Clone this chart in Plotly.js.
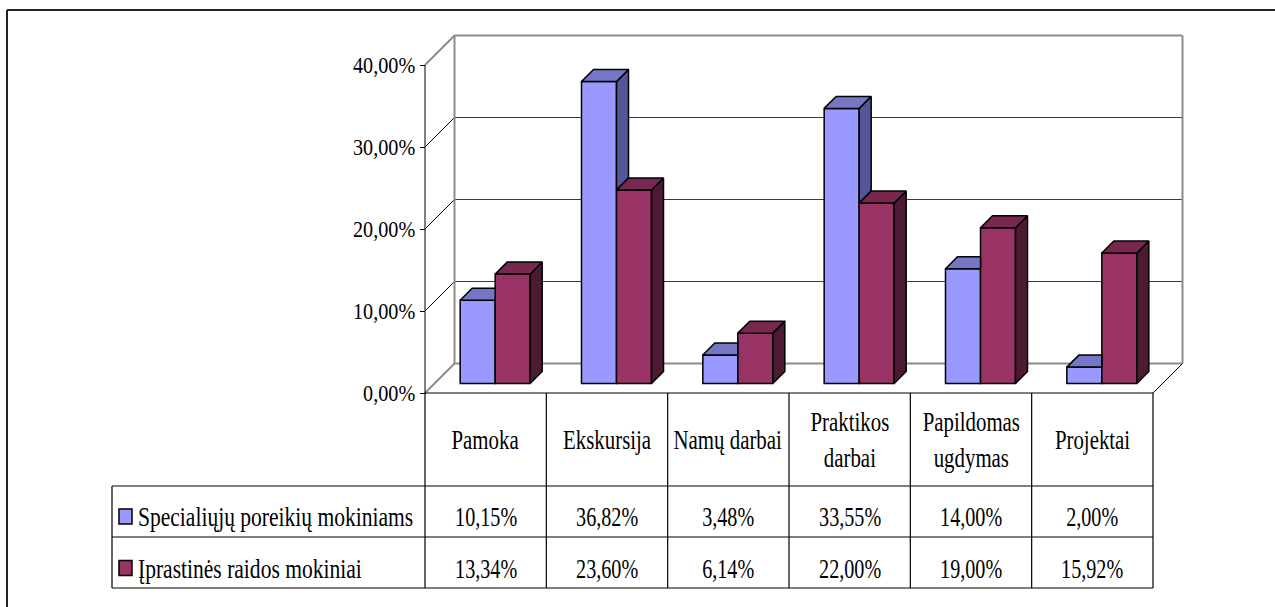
<!DOCTYPE html>
<html>
<head>
<meta charset="utf-8">
<script src="https://cdn.plot.ly/plotly-3.0.1.min.js"></script>
<style>
  html, body { margin: 0; padding: 0; background: #fff; }
  #chart { width: 1275px; height: 607px; }
</style>
</head>
<body>
<div id="chart"></div>
<script>
// ---------------- DATA ----------------
const categories = ['Pamoka', 'Ekskursija', 'Namų darbai', 'Praktikos<br>darbai', 'Papildomas<br>ugdymas', 'Projektai'];
const seriesNames = ['Specialiųjų poreikių mokiniams', 'Įprastinės raidos mokiniai'];
const specialNeeds = [10.15, 36.82, 3.48, 33.55, 14.00, 2.00];
const typicalDev = [13.34, 23.60, 6.14, 22.00, 19.00, 15.92];
const yTickVals = [0, 10, 20, 30, 40];
const yTickText = ['0,00%', '10,00%', '20,00%', '30,00%', '40,00%'];

// ---------------- GEOMETRY (pixels) ----------------
const W = 1275, H = 607;
const X0 = 425, X1 = 1153;            // front plane left/right
const PXU = (X1 - X0) / categories.length; // px per category
const Y0 = 393, PYU = 8.2;            // 0% line, px per 1%
const BO = 9.5;                       // bar plane depth offset px
const BAR_W = 35;                     // bar width px
const DEPTH = 12;                     // bar depth px
const WALL = 29.5;                    // back wall depth px
const FONT = 'Liberation Serif';

const bx = BO / PXU, by = BO / PYU;
const Wu = BAR_W / PXU;
const dx = DEPTH / PXU, dy = DEPTH / PYU;
const wx = WALL / PXU, wy = WALL / PYU;
const xL = -0.5, xR = categories.length - 0.5;
const yMax = yTickVals[yTickVals.length - 1];

const idx = categories.map((_, i) => i);
const px = v => v / W;           // pixel x -> paper
const py = v => 1 - v / H;       // pixel y -> paper

// ---------------- 3D faces ----------------
function poly(list) {
  const xs = [], ys = [];
  list.forEach(p => { p.forEach(q => { xs.push(q[0]); ys.push(q[1]); }); xs.push(p[0][0]); ys.push(p[0][1]); xs.push(null); ys.push(null); });
  return { xs, ys };
}
const blueSide = [], blueTop = [], redSide = [], redTop = [];
idx.forEach(i => {
  const vb = specialNeeds[i], vr = typicalDev[i];
  const x0b = i + bx - Wu, x1b = i + bx, x1r = i + bx + Wu;
  const Tb = by + vb, Tr = by + vr;
  if (vb > vr) {
    blueSide.push([[x1b, Tr], [x1b, Tb], [x1b + dx, Tb + dy], [x1b + dx, Tr + dy]]);
    blueTop.push([[x0b, Tb], [x1b, Tb], [x1b + dx, Tb + dy], [x0b + dx, Tb + dy]]);
  } else {
    blueTop.push([[x0b, Tb], [x1b, Tb], [x1b, Tb + dy], [x0b + dx, Tb + dy]]);
  }
  redSide.push([[x1r, by], [x1r, Tr], [x1r + dx, Tr + dy], [x1r + dx, by + dy]]);
  redTop.push([[x1b, Tr], [x1r, Tr], [x1r + dx, Tr + dy], [x1b + dx, Tr + dy]]);
});
function faceTrace(list, color) {
  const p = poly(list);
  return { type: 'scatter', mode: 'lines', x: p.xs, y: p.ys, fill: 'toself', fillcolor: color,
    line: { color: '#000', width: 1.5 }, hoverinfo: 'skip', showlegend: false, connectgaps: false };
}

const data = [
  { type: 'bar', name: seriesNames[0], x: idx.map(i => i + bx), y: specialNeeds, base: by, width: Wu, offset: -Wu,
    marker: { color: '#9999FF', line: { color: '#000', width: 1.5 } }, hoverinfo: 'skip', showlegend: false },
  { type: 'bar', name: seriesNames[1], x: idx.map(i => i + bx), y: typicalDev, base: by, width: Wu, offset: 0,
    marker: { color: '#993366', line: { color: '#000', width: 1.5 } }, hoverinfo: 'skip', showlegend: false },
  faceTrace(blueSide, '#55559A'),
  faceTrace(blueTop, '#7676C6'),
  faceTrace(redSide, '#4D1A34'),
  faceTrace(redTop, '#78284F')
];

// ---------------- SHAPES ----------------
const shapes = [];
const GRAY = '#8C8C8C';
yTickVals.forEach(v => {
  const edge = (v === 0 || v === yMax);
  shapes.push({ type: 'line', layer: 'below', xref: 'x', yref: 'y', x0: xL + wx, y0: v + wy, x1: xR + wx, y1: v + wy,
    line: { color: edge ? GRAY : '#3A3A3A', width: edge ? 2 : 1.2 } });
  shapes.push({ type: 'line', layer: 'below', xref: 'x', yref: 'y', x0: xL, y0: v, x1: xL + wx, y1: v + wy,
    line: { color: edge ? GRAY : '#000', width: edge ? 2 : 1 } });
});
[xL + wx, xR + wx].forEach(x => {
  shapes.push({ type: 'line', layer: 'below', xref: 'x', yref: 'y', x0: x, y0: wy, x1: x, y1: yMax + wy,
    line: { color: GRAY, width: 2 } });
});
shapes.push({ type: 'line', layer: 'below', xref: 'x', yref: 'y', x0: xR, y0: 0, x1: xR + wx, y1: wy, line: { color: '#000', width: 1 } });
shapes.push({ type: 'line', xref: 'x', yref: 'y', x0: xL, y0: 0, x1: xL, y1: yMax, line: { color: '#000', width: 1 } });

// data table lines
const TOP = Y0, R1 = 486, R2 = 537, R3 = 588, TL = 112;
shapes.push({ type: 'line', xref: 'paper', yref: 'paper', x0: px(X0), y0: py(TOP), x1: px(X1), y1: py(TOP), line: { color: '#000', width: 1.2 } });
[R1, R2, R3].forEach(r => shapes.push({ type: 'line', xref: 'paper', yref: 'paper', x0: px(TL), y0: py(r), x1: px(X1), y1: py(r), line: { color: '#000', width: 1.2 } }));
for (let k = 0; k <= categories.length; k++) {
  const x = X0 + k * PXU;
  shapes.push({ type: 'line', xref: 'paper', yref: 'paper', x0: px(x), y0: py(TOP), x1: px(x), y1: py(R3), line: { color: '#000', width: 1.2 } });
}
shapes.push({ type: 'line', xref: 'paper', yref: 'paper', x0: px(TL), y0: py(R1), x1: px(TL), y1: py(R3), line: { color: '#000', width: 1.2 } });
const keyColors = ['#9999FF', '#993366'];
const rowMid = [(R1 + R2) / 2 + 5, (R2 + R3) / 2 + 5.5];
rowMid.forEach((m, s) => shapes.push({ type: 'rect', xref: 'paper', yref: 'paper', x0: px(119), x1: px(132), y0: py(m - 7.5), y1: py(m + 7.5),
  fillcolor: keyColors[s], line: { color: '#000', width: 1.5 } }));
shapes.push({ type: 'line', xref: 'paper', yref: 'paper', x0: px(7), y0: py(10), x1: 1, y1: py(10), line: { color: '#222', width: 2 } });
shapes.push({ type: 'line', xref: 'paper', yref: 'paper', x0: px(7), y0: py(10), x1: px(7), y1: 0, line: { color: '#222', width: 2 } });

// ---------------- ANNOTATIONS (table text) ----------------
const fmt = v => v.toFixed(2).replace('.', ',') + '%';
const annotations = [], squeezeBy = [];
const tf = () => ({ family: FONT, size: 28, color: '#000' });
categories.forEach((c, i) => {
  const cx = X0 + (i + 0.5) * PXU;
  annotations.push({ xref: 'paper', yref: 'paper', x: px(cx), y: py((TOP + R1) / 2), text: c, showarrow: false,
    xanchor: 'center', yanchor: 'middle', align: 'center', font: tf() });
  squeezeBy.push(0.745);
  [specialNeeds, typicalDev].forEach((arr, s) => {
    annotations.push({ xref: 'paper', yref: 'paper', x: px(cx), y: py(rowMid[s]), text: fmt(arr[i]), showarrow: false,
      xanchor: 'center', yanchor: 'middle', align: 'center', font: tf() });
    squeezeBy.push(0.72);
  });
});
seriesNames.forEach((n, s) => {
  annotations.push({ xref: 'paper', yref: 'paper', x: px(136), y: py(rowMid[s]), text: n, showarrow: false,
    xanchor: 'left', yanchor: 'middle', align: 'left', font: tf() });
  squeezeBy.push(0.77);
});

// ---------------- LAYOUT ----------------
const layout = {
  width: W, height: H,
  margin: { l: 0, r: 0, t: 0, b: 0, pad: 0 },
  paper_bgcolor: '#fff', plot_bgcolor: 'rgba(0,0,0,0)',
  showlegend: false, barmode: 'overlay',
  xaxis: { domain: [0, 1], range: [xL - X0 / PXU, xL + (W - X0) / PXU], visible: false, fixedrange: true },
  yaxis: { domain: [0, 1], range: [-(H - Y0) / PYU, Y0 / PYU], anchor: 'free', position: X0 / W, side: 'left',
    tickmode: 'array', tickvals: yTickVals, ticktext: yTickText, ticks: 'outside', ticklen: 5, tickwidth: 1, tickcolor: '#000',
    showline: false, showgrid: false, zeroline: false, fixedrange: true,
    tickfont: { family: FONT, size: 23.5, color: '#000' } },
  shapes, annotations
};

function squeezeOne(t, s) {
  const x = parseFloat(t.getAttribute('x')) || 0;
  const tr = t.getAttribute('transform') || '';
  t.setAttribute('transform', (tr + ' translate(' + x + ',0) scale(' + s + ',1) translate(' + (-x) + ',0)').trim());
}

Plotly.newPlot('chart', data, layout, { staticPlot: true, displayModeBar: false }).then(gd => {
  gd.querySelectorAll('.ytick text').forEach(t => squeezeOne(t, 0.86));
  gd.querySelectorAll('.annotation').forEach((g, k) => {
    const t = g.querySelector('.annotation-text');
    if (t) squeezeOne(t, squeezeBy[k] || 0.72);
  });
});
</script>
</body>
</html>
